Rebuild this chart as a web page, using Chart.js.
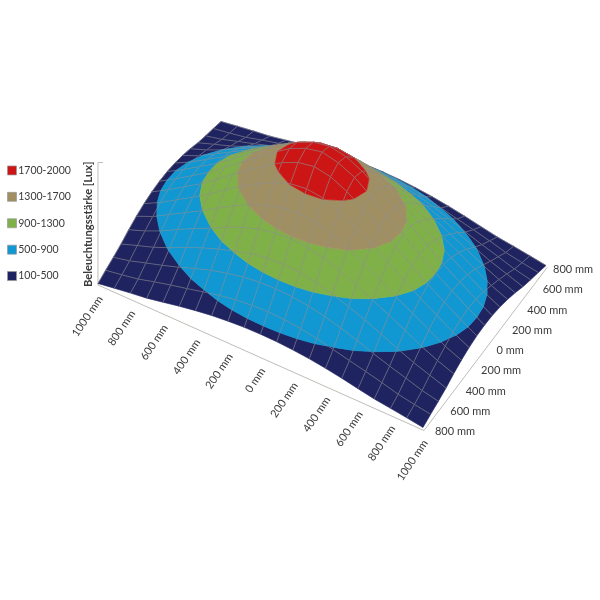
<!DOCTYPE html>
<html><head><meta charset="utf-8">
<style>html,body{margin:0;padding:0;background:#fff}canvas{display:block;filter:blur(0.35px)}</style>
<script src="https://cdn.jsdelivr.net/npm/chart.js@4"></script>
</head><body><canvas id="c" width="600" height="600"></canvas>
<script>
// Value tables: illuminance in Lux, for x = 0..1000 mm in 100 mm steps (the surface is mirrored about both axes)
const xMm = [0,100,200,300,400,500,600,700,800,900,1000];
const yMm = [0,100,200,300,400,500,600,700,800];
const luxY0   = [2000,1944,1830,1654,1468,1281,1090,900,740,580,430];
const luxY100 = [1930,1883,1768,1607,1432,1252,1066,882,724,566,422];
const luxY200 = [1743,1710,1616,1486,1334,1169,995,831,679,526,397];
const luxY300 = [1514,1490,1421,1319,1190,1043,889,750,606,465,359];
const luxY400 = [1281,1262,1207,1123,1014,889,770,644,511,399,306];
const luxY500 = [1043,1028,984,913,833,740,634,519,414,329,242];
const luxY600 = [820,809,778,727,660,578,486,403,328,249,192];
const luxY700 = [620,610,583,540,483,422,366,304,235,189,148];
const luxY800 = [430,425,409,384,349,306,256,208,175,139,100];
const luxRows = [luxY0,luxY100,luxY200,luxY300,luxY400,luxY500,luxY600,luxY700,luxY800];

const bandNames  = ['1700-2000','1300-1700','900-1300','500-900','100-500'];
const bandLow    = [1700,1300,900,500,100];
const bandHigh   = [2000,1700,1300,900,500];
const bandColors = ['#cc1616','#a08f62','#80b048','#1197d1','#1f2360'];
const xTicks = [1000,800,600,400,200,0,200,400,600,800,1000];
const yTicks = [800,600,400,200,0,200,400,600,800];
const zTitle = 'Beleuchtungsstärke [Lux]';

// Oblique projection of the 3D axes onto the chart's x/y scales
const ORIGIN = {x:322, y:274.5}, PER_X = {x:0.1625, y:0.072}, PER_Y = {x:0.0769, y:-0.10125}, PER_LUX = 0.0645, LUX0 = 100;
const project = (xm, ym, lux) => ({
  x: ORIGIN.x + xm*PER_X.x + ym*PER_Y.x,
  y: ORIGIN.y + xm*PER_X.y + ym*PER_Y.y - (lux-LUX0)*PER_LUX
});
const luxAt = (xm, ym) => luxRows[yMm.indexOf(Math.abs(ym))][xMm.indexOf(Math.abs(xm))];

const clipAbove = (poly, level, keepAbove) => {
  const out = [];
  const inside = p => keepAbove ? p.lux >= level : p.lux <= level;
  poly.forEach((p, i) => {
    const q = poly[(i+1)%poly.length];
    if (inside(p)) out.push(p);
    if (inside(p) !== inside(q)) {
      const t = (level-p.lux)/(q.lux-p.lux);
      out.push({xm:p.xm+t*(q.xm-p.xm), ym:p.ym+t*(q.ym-p.ym), lux:level});
    }
  });
  return out;
};

const lineBase = {showLine:true, pointRadius:0, tension:0, clip:false, spanGaps:true};
const painted = [];
const ys = yMm.slice(1).reverse().concat([0], yMm.slice(1).map(v=>-v));
const xs = xMm.slice(1).reverse().map(v=>-v).concat([0], xMm.slice(1));
for (let j=0;j<ys.length-1;j++) for (let i=0;i<xs.length-1;i++) {
  const cell = [[xs[i],ys[j]],[xs[i+1],ys[j]],[xs[i+1],ys[j+1]],[xs[i],ys[j+1]]]
    .map(([xm,ym])=>({xm,ym,lux:luxAt(xm,ym)}));
  for (let b=bandLow.length-1;b>=0;b--) {
    let poly = clipAbove(cell, bandLow[b], true);
    if (poly.length) poly = clipAbove(poly, bandHigh[b], false);
    if (poly.length<3) continue;
    const pts = poly.map(p=>project(p.xm,p.ym,p.lux)); pts.push(pts[0]);
    painted.push({...lineBase, data:pts, fill:'shape', backgroundColor:bandColors[b], borderColor:bandColors[b], borderWidth:0.6});
  }
  const edge = [cell[3],cell[0],cell[1]].map(p=>project(p.xm,p.ym,p.lux));
  painted.push({...lineBase, data:edge, fill:false, borderColor:'rgba(138,138,142,0.65)', borderWidth:0.9});
}

const XE=1000, YE=800;
const axisA = project(-XE,-YE,LUX0), axisB = project(XE,-YE,LUX0), axisC = project(XE,YE,LUX0);
const offset = (p,dx,dy)=>({x:p.x+dx,y:p.y+dy});
const axisLines = [
  [offset(axisA,0,1.5), offset(axisB,1,3)],
  [offset(axisB,1,3), offset(axisC,1,2)],
  [offset(axisA,0,1.5), offset(axisA,0,-121), offset(axisA,5,-121)]
].map(data=>({...lineBase, data, fill:false, borderColor:'#bdbdb8', borderWidth:1}));

const legendSets = bandNames.map((label,i)=>({label, data:[], backgroundColor:bandColors[i], borderColor:'#9a9a9a', borderWidth:0.7, pointStyle:'rect'}));

const axisText = {
  id:'axisText',
  beforeDraw(chart){
    const lg = chart.legend;
    lg.left = -4.9; lg.top = 149.3; lg.bottom = 320; lg.right = 90;
  },
  afterDatasetsDraw(chart){
    const {ctx, scales:{x:sx,y:sy}} = chart;
    const px = p => [sx.getPixelForValue(p.x), sy.getPixelForValue(p.y)];
    ctx.save();
    ctx.fillStyle = '#3a3a3a';
    ctx.font = '11px Lato';
    ctx.textBaseline = 'middle';
    xTicks.forEach((t,i)=>{
      const [a,b] = px(project(-XE + i*200,-YE,LUX0));
      ctx.save(); ctx.translate(a+2.5,b+13.5); ctx.rotate(-56*Math.PI/180);
      ctx.textAlign='right'; ctx.fillText(t+' mm',0,0); ctx.restore();
    });
    yTicks.forEach((t,i)=>{
      const [a,b] = px(project(XE,-YE+i*200,LUX0));
      ctx.textAlign='left';
      ctx.fillText(t+' mm', a+12 - (i===8?5:0), b+4);
    });
    const [za,zb] = px(axisA);
    ctx.save(); ctx.translate(za-9.5,zb+3.5); ctx.rotate(-Math.PI/2);
    ctx.font='bold 11.2px Lato'; ctx.textAlign='left'; ctx.fillText(zTitle,0,0); ctx.restore();
    ctx.restore();
  }
};

new Chart(document.getElementById('c'),{
  type:'scatter',
  data:{datasets:[...legendSets, ...painted.reverse(), ...axisLines]},
  options:{
    responsive:false, animation:false, events:[],
    layout:{padding:0},
    scales:{
      x:{type:'linear',min:0,max:600,display:false},
      y:{type:'linear',min:0,max:600,reverse:true,display:false}
    },
    plugins:{
      tooltip:{enabled:false},
      title:{display:false},
      legend:{
        display:true, position:'chartArea', align:'start',
        labels:{
          usePointStyle:true, boxWidth:2, boxHeight:9, padding:15.9,
          color:'#3a3a3a', font:{family:'Lato',size:10.5},
          filter:item=>!!item.text
        }
      }
    }
  },
  plugins:[axisText]
});
</script></body></html>
